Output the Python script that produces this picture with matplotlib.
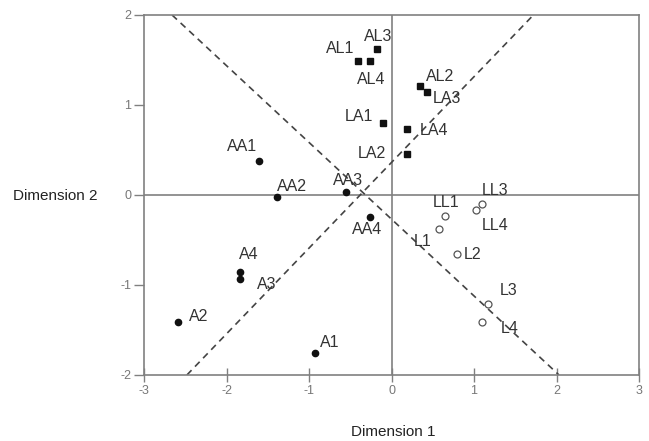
import matplotlib
matplotlib.use("Agg")
import matplotlib.pyplot as plt

plt.rcParams["font.family"] = ["Liberation Sans", "DejaVu Sans"]
plt.rcParams["axes.unicode_minus"] = False

# squares
sq_labels = ["AL1", "AL4", "AL3", "AL2", "LA3", "LA1", "LA4", "LA2"]
sq_x = [-0.41, -0.26, -0.18, 0.35, 0.43, -0.10, 0.19, 0.19]
sq_y = [1.49, 1.49, 1.62, 1.21, 1.14, 0.80, 0.73, 0.46]

# filled circles
fc_labels = ["AA1", "AA2", "AA3", "AA4", "A4", "A3", "A2", "A1"]
fc_x = [-1.61, -1.39, -0.55, -0.26, -1.84, -1.84, -2.59, -0.93]
fc_y = [0.38, -0.02, 0.03, -0.24, -0.86, -0.93, -1.41, -1.76]

# open circles
oc_labels = ["LL1", "L1", "LL4", "LL3", "L2", "L3", "L4"]
oc_x = [0.65, 0.58, 1.02, 1.10, 0.79, 1.17, 1.10]
oc_y = [-0.23, -0.38, -0.17, -0.10, -0.66, -1.21, -1.41]

# dashed separating lines (endpoints)
desc_x = [-2.66, 2.03]
desc_y = [2.0, -2.0]
asc_x = [-2.48, 1.72]
asc_y = [-2.0, 2.0]

ticks = [-3, -2, -1, 0, 1, 2, 3]
yticks = [-2, -1, 0, 1, 2]

# label offsets in pixels (dx, dy)
offsets = {
    "AL1": (-18, 12), "AL3": (1, 13), "AL4": (1, -19), "AL2": (20, 10),
    "LA3": (20, -6), "LA1": (-24, 6), "LA4": (27, -1), "LA2": (-35, 0),
    "AA1": (-17, 14), "AA2": (15, 10), "AA3": (2, 12), "AA4": (-3, -13),
    "A4": (9, 18), "A3": (27, -6), "A2": (21, 5), "A1": (15, 11),
    "LL1": (1, 13), "L1": (-17, -12), "LL3": (13, 13), "LL4": (19, -15),
    "L2": (16, 0), "L3": (21, 13), "L4": (27, -7),
}

fig = plt.figure(figsize=(6.49, 4.41), dpi=100)
ax = fig.add_axes([0.2219, 0.1497, 0.7627, 0.8163])

frame = "#808080"
ax.axhline(0, color=frame, lw=1.2, zorder=1)
ax.axvline(0, color=frame, lw=1.2, zorder=1)
ax.plot(desc_x, desc_y, color="#444444", lw=1.2, dashes=(4, 3), zorder=2)
ax.plot(asc_x, asc_y, color="#444444", lw=1.2, dashes=(4, 3), zorder=2)

ax.plot(sq_x, sq_y, "s", color="#111111", ms=5, ls="none", zorder=3)
ax.plot(fc_x, fc_y, "o", color="#111111", ms=4.5, ls="none", zorder=3)
ax.plot(oc_x, oc_y, "o", mfc="white", mec="#555555", mew=0.9, ms=5,
        ls="none", zorder=3)

for labels, xs, ys in [(sq_labels, sq_x, sq_y), (fc_labels, fc_x, fc_y),
                       (oc_labels, oc_x, oc_y)]:
    for lab, x, y in zip(labels, xs, ys):
        ax.annotate(lab, (x, y), xytext=offsets[lab], textcoords="offset pixels",
                    ha="center", va="center", fontsize=11.5, color="#333333",
                    zorder=4)

ax.set_xlim(-3, 3)
ax.set_ylim(-2, 2)
ax.set_xticks(ticks)
ax.set_yticks(yticks)
ax.tick_params(axis="x", direction="inout", length=10, width=1, color=frame,
               labelcolor="#777777", labelsize=9, pad=2)
ax.tick_params(axis="y", direction="out", length=7, width=1, color=frame,
               labelcolor="#777777", labelsize=9, pad=2)
for s in ax.spines.values():
    s.set_color(frame)
    s.set_linewidth(1.2)

fig.text(55 / 649, 1 - 196 / 441, "Dimension 2", ha="center", va="center",
         fontsize=11, color="#222222")
fig.text(393 / 649, 1 - 432 / 441, "Dimension 1", ha="center", va="center",
         fontsize=11, color="#222222")

fig.savefig("out.png", dpi=100)
plt.close(fig)
